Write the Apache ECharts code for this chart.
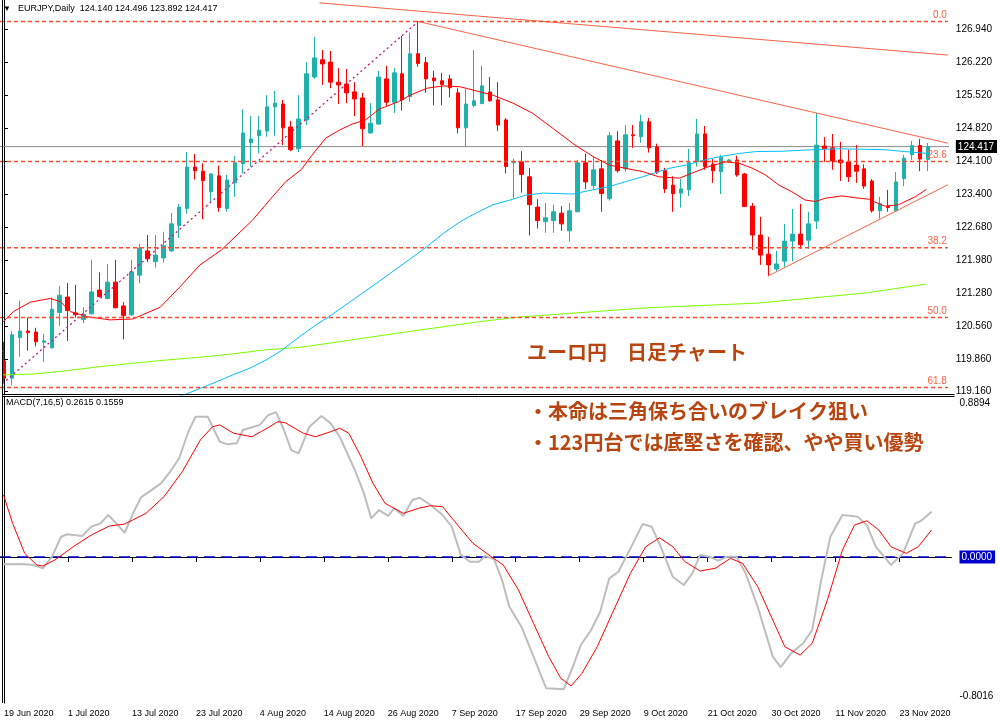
<!DOCTYPE html>
<html><head><meta charset="utf-8">
<script src="https://cdn.jsdelivr.net/npm/echarts@6/dist/echarts.min.js"></script>
<style>html,body{margin:0;padding:0;background:#fff}#c{width:1000px;height:725px}</style>
</head><body><div id="c"></div>
<script>
const symbolName = 'EURJPY,Daily';
// daily candles: [open, high, low, close]
const candles = [
[119.82,120.23,119.37,119.45],[119.45,120.46,119.30,120.38],[120.32,121.11,119.91,120.46],[120.46,120.75,120.04,120.43],
[120.44,120.53,120.13,120.23],[120.22,120.40,119.80,120.25],[120.10,121.18,120.09,120.93],[120.86,121.43,120.57,121.23],
[121.19,121.49,120.25,120.90],[120.85,121.45,120.75,120.81],[120.71,120.97,120.63,120.82],[120.83,121.99,120.82,121.30],
[121.34,121.72,121.18,121.20],[121.16,121.90,121.14,121.51],[121.51,121.99,120.95,120.96],[121.00,121.08,120.28,120.79],
[120.81,121.99,120.78,121.73],[121.66,122.33,121.49,122.24],[122.18,122.52,121.94,122.01],[121.95,122.52,121.82,122.09],
[122.03,122.59,121.93,122.29],[122.18,122.99,122.16,122.76],[122.72,123.19,122.46,123.12],[123.09,124.30,122.98,123.98],
[123.98,124.26,123.71,123.90],[123.89,124.06,122.86,123.69],[123.45,123.85,123.21,123.83],[123.79,124.01,123.02,123.11],
[123.09,123.81,123.02,123.70],[123.64,124.22,123.34,124.07],[124.05,125.22,123.84,124.71],[124.50,125.07,123.99,124.58],
[124.65,125.07,124.27,124.77],[124.75,125.52,124.63,125.27],[125.27,125.61,124.65,125.35],[125.33,125.42,124.45,124.82],
[124.84,124.97,124.32,124.35],[124.37,125.52,124.30,125.01],[124.99,126.23,124.88,125.98],[125.91,126.77,125.87,126.32],
[126.28,126.49,125.74,126.19],[126.23,126.47,125.67,125.80],[125.80,126.10,125.33,125.74],[125.76,126.08,125.35,125.57],
[125.59,125.80,125.07,125.44],[125.46,125.57,124.43,124.80],[124.71,125.35,124.69,124.92],[124.90,126.04,124.89,125.91],
[125.87,126.15,125.29,125.37],[125.37,126.10,125.14,126.00],[125.98,126.79,125.19,125.42],[125.49,126.86,125.38,126.41],
[126.41,127.10,126.13,126.20],[126.22,126.34,125.57,125.87],[125.89,126.05,125.30,125.83],[125.83,126.00,125.30,125.75],
[125.87,125.96,125.47,125.68],[125.57,125.67,124.70,124.82],[124.82,125.65,124.42,125.33],[125.30,126.49,125.26,125.40],
[125.34,126.15,125.33,125.72],[125.59,125.91,125.38,125.40],[125.42,125.80,124.75,124.88],[124.99,125.03,123.84,123.99],
[124.07,124.16,123.30,124.10],[124.09,124.32,123.43,123.82],[123.77,123.96,122.51,123.17],[123.12,123.29,122.66,122.83],
[122.81,123.21,122.57,122.89],[122.83,123.17,122.57,123.02],[122.99,123.14,122.61,122.76],[122.61,123.21,122.38,123.04],
[123.02,124.13,123.01,124.07],[124.07,124.27,123.51,123.66],[123.58,124.20,123.51,123.92],[123.94,124.13,123.02,123.41],
[123.30,124.73,123.26,124.65],[124.54,124.75,123.86,123.90],[123.94,124.88,123.88,124.67],[124.67,124.88,124.39,124.65],
[124.63,125.10,124.50,124.95],[124.95,125.03,124.29,124.39],[124.41,124.48,123.83,123.87],[123.90,123.96,123.42,123.51],
[123.59,123.78,123.02,123.41],[123.42,123.72,123.11,123.51],[123.49,124.37,123.36,124.07],[124.09,125.01,123.99,124.69],
[124.69,124.86,123.92,123.99],[124.04,124.15,123.64,123.90],[123.88,124.24,123.40,124.19],[124.09,124.15,124.07,124.13],
[124.13,124.22,123.77,123.81],[123.83,123.85,123.12,123.13],[123.14,123.21,122.20,122.52],[122.52,122.91,121.88,122.09],
[122.11,122.48,121.64,121.88],[121.79,122.18,121.74,121.90],[121.96,122.76,121.84,122.39],[122.39,123.08,121.96,122.54],
[122.54,123.19,122.22,122.31],[122.41,123.02,122.22,122.76],[122.82,125.14,122.65,124.45],[124.43,124.62,124.09,124.37],
[124.39,124.69,123.92,124.11],[124.13,124.52,123.68,124.07],[124.09,124.35,123.66,123.77],[124.02,124.45,123.64,123.89],
[123.94,124.04,123.51,123.57],[123.68,123.72,123.00,123.04],[123.04,123.34,122.87,123.19],[123.13,123.49,123.02,123.11],
[123.04,123.87,123.02,123.66],[123.73,124.24,123.57,124.17],[124.24,124.54,124.13,124.44],[124.44,124.58,123.89,124.15],
[124.140,124.496,123.892,124.417]
];
const slotCount = 119; // bars + right shift
const tickIdx = [0,8,16,24,32,40,48,56,64,72,80,88,96,104,112];
const tickText = ['19 Jun 2020','1 Jul 2020','13 Jul 2020','23 Jul 2020','4 Aug 2020','14 Aug 2020','26 Aug 2020','7 Sep 2020',
  '17 Sep 2020','29 Sep 2020','9 Oct 2020','21 Oct 2020','30 Oct 2020','11 Nov 2020','23 Nov 2020'];
const priceTicks = [126.94,126.22,125.52,124.82,124.10,123.40,122.68,121.98,121.28,120.56,119.86,119.16];
const macdTicks = [0.8894, 0, -0.8016];
// moving averages: [bar index, price]
const maRed = [[-0.1,120.66],[1.2,120.88],[3.3,121.08],[5.8,121.16],[7.1,121.09],[8.3,120.88],[10.4,120.77],[13.3,120.70],[16.2,120.72],[17.4,120.81],[19.6,120.97],[22.1,121.41],[24.6,121.88],[27.3,122.20],[31.2,122.84],[33.7,123.34],[35.4,123.67],[37.3,123.92],[38.7,124.24],[40.4,124.60],[42.1,124.77],[43.7,124.90],[45.4,124.99],[47.1,125.22],[49.5,125.38],[51.0,125.52],[53.1,125.67],[55.2,125.72],[57.3,125.70],[58.9,125.63],[61.4,125.52],[63.9,125.35],[66.4,125.13],[68.9,124.81],[71.7,124.45],[74.0,124.20],[76.0,124.02],[78.1,123.95],[80.2,123.88],[82.2,123.77],[84.8,123.74],[86.4,123.85],[88.5,123.99],[90.6,124.09],[92.3,124.06],[94.0,123.95],[95.6,123.81],[97.3,123.59],[98.9,123.45],[100.6,123.27],[101.9,123.24],[103.1,123.31],[105.2,123.36],[106.9,123.32],[108.5,123.29],[110.6,123.14],[112.3,123.17],[114.4,123.34],[115.8,123.50]];
const maBlue = [[21.3,119.03],[22.9,119.11],[24.6,119.23],[26.65,119.37],[28.7,119.52],[30.8,119.66],[32.9,119.84],[35.0,120.06],[37.1,120.34],[39.15,120.59],[40.8,120.77],[46.8,121.49],[52.7,122.22],[55.2,122.56],[57.3,122.81],[59.35,123.00],[61.4,123.17],[63.5,123.27],[65.6,123.38],[67.7,123.42],[71.4,123.40],[73.9,123.49],[76.0,123.56],[78.1,123.67],[80.2,123.77],[82.15,123.88],[83.5,123.95],[85.6,124.02],[87.7,124.12],[89.8,124.20],[92.3,124.27],[94.35,124.31],[98.1,124.32],[101.4,124.35],[104.8,124.37],[108.1,124.36],[110.6,124.35],[113.1,124.31],[116.0,124.27]];
const maGreen = [[-0.1,119.52],[3.7,119.54],[7.9,119.61],[12.1,119.70],[16.2,119.77],[20.4,119.84],[24.6,119.90],[28.7,119.97],[32.9,120.06],[37.1,120.11],[40.8,120.20],[49.6,120.42],[59.6,120.66],[64.6,120.76],[80.8,120.96],[94.6,121.06],[108.3,121.28],[115.8,121.47]];
const macdMain = [[-0.06,-0.042],[2.19,-0.040],[3.69,-0.046],[4.86,-0.065],[6.0,0.002],[7.14,0.117],[7.9,0.131],[9.79,0.121],[10.93,0.175],[12.06,0.194],[13.05,0.242],[13.96,0.198],[15.09,0.140],[16.23,0.261],[17.14,0.344],[18.35,0.383],[19.64,0.425],[20.78,0.492],[21.91,0.570],[23.05,0.723],[23.96,0.810],[25.48,0.810],[26.99,0.665],[27.98,0.650],[29.11,0.656],[29.86,0.733],[31.99,0.762],[33.05,0.819],[34.04,0.835],[35.01,0.733],[35.93,0.617],[36.84,0.598],[38.2,0.752],[39.71,0.814],[40.85,0.771],[41.99,0.694],[43.88,0.502],[45.01,0.368],[45.93,0.223],[46.91,0.271],[48.05,0.237],[48.8,0.281],[49.94,0.237],[51.08,0.329],[51.99,0.342],[53.35,0.300],[54.86,0.242],[56.0,0.175],[57.14,0.012],[58.28,-0.027],[59.41,-0.027],[60.16,0.006],[61.3,-0.013],[62.29,-0.133],[63.2,-0.287],[64.71,-0.402],[66.23,-0.575],[67.81,-0.758],[70.01,-0.763],[71.15,-0.633],[72.14,-0.508],[73.43,-0.421],[74.56,-0.316],[75.7,-0.123],[76.84,-0.085],[78.35,0.050],[79.86,0.190],[81.0,0.175],[82.14,0.059],[83.65,-0.114],[85.01,-0.162],[86.08,-0.094],[87.06,0.012],[88.2,0.002],[89.34,-0.021],[90.48,0.002],[91.61,0.002],[92.75,-0.094],[94.26,-0.287],[96.15,-0.575],[97.14,-0.636],[98.43,-0.556],[99.94,-0.498],[101.08,-0.421],[102.21,-0.133],[103.35,0.117],[104.86,0.242],[106.76,0.233],[107.9,0.185],[109.04,0.059],[110.93,-0.046],[112.44,0.021],[113.96,0.194],[114.71,0.209],[116.0,0.2615]];
const macdSignal = [[-0.06,0.358],[1.08,0.194],[2.59,0.021],[4.11,-0.046],[4.86,-0.052],[6.38,-0.017],[8.65,0.059],[10.93,0.127],[13.2,0.179],[15.09,0.190],[17.75,0.252],[20.01,0.348],[22.29,0.492],[24.56,0.675],[26.08,0.752],[26.99,0.762],[28.73,0.714],[31.0,0.694],[32.9,0.743],[34.26,0.781],[35.16,0.775],[37.44,0.714],[38.96,0.694],[40.85,0.723],[41.99,0.743],[43.13,0.714],[44.64,0.579],[46.15,0.425],[47.66,0.310],[49.94,0.252],[51.84,0.281],[53.35,0.296],[54.86,0.290],[56.38,0.204],[58.65,0.079],[60.93,0.002],[62.44,-0.046],[64.34,-0.190],[66.23,-0.383],[68.13,-0.575],[69.64,-0.700],[70.93,-0.744],[72.29,-0.671],[74.19,-0.518],[76.08,-0.325],[78.35,-0.094],[80.25,0.059],[81.99,0.111],[83.65,0.059],[85.16,-0.027],[87.06,-0.081],[88.96,-0.065],[90.85,-0.008],[92.36,-0.036],[94.26,-0.171],[96.15,-0.364],[97.66,-0.518],[99.56,-0.566],[101.08,-0.498],[102.98,-0.248],[104.86,0.040],[106.38,0.185],[107.9,0.209],[109.41,0.156],[110.93,0.059],[112.83,0.021],[114.34,0.059],[116.0,0.1559]];
const fibLevels = [127.10, 124.10, 122.25, 120.75, 119.25];
const fibNames = ['0.0','23.6','38.2','50.0','61.8'];
const trendLines = [
  [[39.6,127.50],[118.5,126.38]],
  [[52,127.10],[118.5,124.49]],
  [[95.9,121.64],[118.5,123.60]]
];
const fibAnchorLine = [[-0.2,119.33],[52,127.10]];
const titleText = 'ユーロ円　日足チャート';
const noteLines = ['・本命は三角保ち合いのブレイク狙い','・123円台では底堅さを確認、やや買い優勢'];

const F = '"Liberation Sans", Arial, sans-serif';
const JP = '"Noto Sans CJK JP", sans-serif';
const NOTE = '#B8450F';
const FIB = '#FF6347';
const last = candles[candles.length - 1];
const lastClose = last[3];
const slots = Array.from({length: slotCount}, (_, i) => String(i));
const xMax = slotCount - 0.5;

function line(data, color, width, type, xi, yi, z) {
  return {type: 'line', xAxisIndex: xi, yAxisIndex: yi, data: data, symbol: 'none', silent: true,
    color: color, itemStyle: {color: color},
    lineStyle: {color: color, width: width, type: type || 'solid', opacity: 1}, z: z || 3, clip: true};
}

const fibSeries = fibLevels.map((v, k) => Object.assign(
  line([[-0.5, v], [xMax, v]], '#FF4A2A', 1.5, [4, 3], 1, 0, 6), {
    endLabel: {show: true, formatter: () => fibNames[k], color: FIB, fontSize: 10, fontFamily: F,
      align: 'right', verticalAlign: 'bottom', distance: 0, offset: [-1, -1]}
  }));

const chart = echarts.init(document.getElementById('c'), null, {renderer: 'canvas'});
const option = {
  animation: false,
  backgroundColor: '#fff',
  grid: [
    {left: -0.5, top: 0, width: 952, height: 395},
    {left: -0.5, top: 397, width: 952, height: 306}
  ],
  xAxis: [
    {type: 'category', gridIndex: 0, data: slots, boundaryGap: true, show: false},
    {type: 'value', gridIndex: 0, min: -0.5, max: xMax, show: false},
    {type: 'category', gridIndex: 1, data: slots, boundaryGap: true, position: 'bottom',
      axisLine: {show: true, lineStyle: {color: '#000', width: 1}},
      axisTick: {show: true, alignWithLabel: true, length: 5, interval: (i) => tickIdx.includes(i), lineStyle: {color: '#000'}},
      axisLabel: {show: true, interval: (i) => tickIdx.includes(i),
        formatter: (v, i) => { const k = tickIdx.indexOf(Number(v)); return k >= 0 ? tickText[k] : ''; },
        align: 'left', margin: 6, fontSize: 9, fontFamily: F, color: '#000'},
      splitLine: {show: false}},
    {type: 'value', gridIndex: 1, min: -0.5, max: xMax, show: false}
  ],
  yAxis: [
    {type: 'value', gridIndex: 0, position: 'right', offset: 3, min: 119.089, max: 127.562,
      axisLine: {show: true, lineStyle: {color: '#000'}},
      axisTick: {show: true, length: 4, customValues: priceTicks, lineStyle: {color: '#000'}},
      axisLabel: {customValues: priceTicks.concat([lastClose]), margin: 5, fontSize: 10, fontFamily: F, color: '#000',
        formatter: v => Math.abs(v - lastClose) < 1e-6 ? '{cur|' + v.toFixed(3) + '}' : v.toFixed(3),
        rich: {cur: {backgroundColor: '#000', color: '#fff', fontSize: 10, fontFamily: F, padding: [2, 3, 1, 2]}}},
      splitLine: {show: false}},
    {type: 'value', gridIndex: 1, position: 'right', offset: 3, min: -0.8425, max: 0.9233,
      axisLine: {show: true, lineStyle: {color: '#000'}},
      axisTick: {show: false},
      axisLabel: {customValues: macdTicks, margin: 5, fontSize: 10, fontFamily: F, color: '#000',
        formatter: v => v === 0 ? '{z|0.0000}' : v.toFixed(4),
        rich: {z: {backgroundColor: '#0000CD', color: '#fff', fontSize: 10, fontFamily: F, padding: [2, 3, 1, 2]}}},
      splitLine: {show: false}}
  ],
  series: [
    {type: 'candlestick', xAxisIndex: 0, yAxisIndex: 0, barWidth: 4, silent: true, z: 2,
      data: candles.map(c => [c[0], c[3], c[2], c[1]]),
      itemStyle: {color: '#20B2AA', color0: '#FF0000', borderColor: '#20B2AA', borderColor0: '#FF0000', borderWidth: 1}},
    line([[-0.5, lastClose], [xMax + 0.4, lastClose]], '#8C8C8C', 1, 'solid', 1, 0, 1),
    ...fibSeries,
    line(maGreen, '#7CFC00', 1, 'solid', 1, 0),
    line(maBlue, '#00BFFF', 1, 'solid', 1, 0),
    line(maRed, '#FF0000', 1, 'solid', 1, 0),
    line(fibAnchorLine, '#C71585', 1.3, [2, 3], 1, 0),
    line(trendLines[0], FIB, 1, 'solid', 1, 0),
    line(trendLines[1], FIB, 1, 'solid', 1, 0),
    line(trendLines[2], FIB, 1, 'solid', 1, 0),
    line([[-0.5, 0], [xMax, 0]], '#0000CD', 1.5, [11, 6], 3, 1, 2),
    line(macdMain, '#BEBEBE', 2, 'solid', 3, 1),
    line(macdSignal, '#FF0000', 1, 'solid', 3, 1)
  ],
  graphic: [
    {type: 'line', shape: {x1: 2.5, y1: 0, x2: 2.5, y2: 703}, style: {stroke: '#000', lineWidth: 1}, z: 50},
    {type: 'line', shape: {x1: 2.5, y1: 394.5, x2: 954.5, y2: 394.5}, style: {stroke: '#000', lineWidth: 1}, z: 50},
    {type: 'line', shape: {x1: 2.5, y1: 396.5, x2: 954.5, y2: 396.5}, style: {stroke: '#000', lineWidth: 1}, z: 50},
    {type: 'text', x: 3, y: 9, z: 50, style: {text: '▼', fontSize: 8, fontFamily: F, fill: '#000', verticalAlign: 'middle'}},
    {type: 'text', x: 18, y: 9, z: 50, style: {text: symbolName + '  ' + [last[0], last[1], last[2], last[3]].map(v => v.toFixed(3)).join(' '),
      fontSize: 9, fontFamily: F, fill: '#000', verticalAlign: 'middle'}},
    {type: 'text', x: 6, y: 403, z: 50, style: {text: 'MACD(7,16,5) ' + macdMain[macdMain.length - 1][1].toFixed(4) + ' ' + macdSignal[macdSignal.length - 1][1].toFixed(4),
      fontSize: 9, fontFamily: F, fill: '#000', verticalAlign: 'middle'}},
    {type: 'text', x: 527, y: 352, z: 50, style: {text: titleText, fontSize: 20, fontWeight: 'bold', fontFamily: JP, fill: NOTE, verticalAlign: 'middle'}},
    {type: 'text', x: 528, y: 411, z: 50, style: {text: noteLines[0], fontSize: 20, fontWeight: 'bold', fontFamily: JP, fill: NOTE, verticalAlign: 'middle'}},
    {type: 'text', x: 528, y: 442, z: 50, style: {text: noteLines[1], fontSize: 20, fontWeight: 'bold', fontFamily: JP, fill: NOTE, verticalAlign: 'middle'}}
  ]
};
chart.setOption(option);
</script>
</body></html>
